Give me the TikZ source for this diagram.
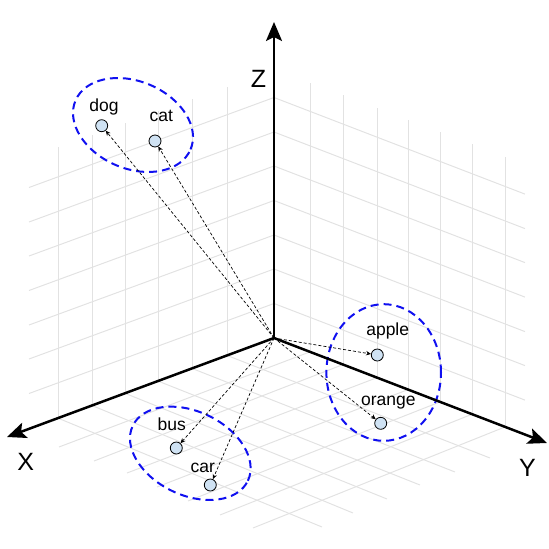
\documentclass[tikz,border=0pt]{standalone}
\usepackage{fontspec}
\setmainfont{Liberation Sans}
\usetikzlibrary{arrows.meta}
\definecolor{gridgray}{HTML}{E2E2E2}
\definecolor{ptfill}{HTML}{CFE2F3}
\definecolor{grpblue}{HTML}{1010F0}
\begin{document}
\begin{tikzpicture}[x=1pt,y=-1pt,
  gridline/.style={draw=gridgray, line width=1pt},
  axisline/.style={line width=2.5pt, -{Stealth[length=19pt,width=16pt,inset=4pt]}},
  grp/.style={draw=grpblue, line width=2pt, dash pattern=on 8pt off 5pt},
  vec/.style={line width=0.7pt, dash pattern=on 3pt off 2pt, -{Stealth[length=5pt,width=4.5pt]}},
  pt/.style={circle, draw, line width=0.8pt, fill=ptfill, minimum size=12pt, inner sep=0pt},
  lbl/.style={anchor=base, inner sep=0pt, font=\fontsize{17.5}{20}\selectfont},
  axl/.style={anchor=base, inner sep=0pt, font=\fontsize{25}{28}\selectfont}
]
\useasboundingbox (0,0) rectangle (549,549);

% left wall (XZ)
\foreach \y in {97.5,132,166,200.5,235,269,303.5}
  \draw[gridline] (274,\y) -- (29,\y+90);
\foreach \x in {58,92,125,158,192,227}
  \draw[gridline] (\x,{338+(274-\x)*0.371}) -- (\x,{70+(274-\x)*0.355});
% right wall (YZ)
\foreach \y in {97.5,132,166,200.5,235,269,303.5}
  \draw[gridline] (274,\y) -- (525,\y+96.6);
\foreach \x in {310,343,377,408,440,472,505}
  \draw[gridline] (\x,{338+(\x-274)*0.385}) -- (\x,{69+(\x-274)*0.38});
% floor (XY)
\foreach \x/\ex/\ey in {227/490/458,192/455/472,158/420/485,125/387/499,92/353/513,58/322/527}
  \draw[gridline] (\x,{338+(274-\x)*0.371}) -- (\ex,\ey);
\foreach \x/\ex/\ey in {310/59/447,343/94/461,377/127/473,408/157/487,440/188/501,472/220/515,505/253/528}
  \draw[gridline] (\x,{338+(\x-274)*0.385}) -- (\ex,\ey);

% group ellipses
\draw[grp, rotate around={-23:(133,125)}] (133,125) ellipse [x radius=62.5pt, y radius=43.6pt];
\draw[grp, rotate around={-25.5:(190.3,453.3)}] (190.3,453.3) ellipse [x radius=63.8pt, y radius=41.8pt];
\draw[grp] (383.7,372.5) ellipse [x radius=57.3pt, y radius=68.3pt];

% axes
\coordinate (O) at (274,338);
\coordinate (xt) at (7,437);
\coordinate (yt) at (547,443);
\coordinate (zt) at (274,22);
\draw[axisline] (O) -- (xt);
\draw[axisline] (O) -- (yt);
\draw[axisline] (O) -- (zt);
\node[axl] (xl) at (25.8,470) {X};
\node[axl] (yl) at (527.5,476.5) {Y};
\node[axl] (zl) at (258.5,87) {Z};

% points
\node[pt] (dog) at (101.7,125.7) {};
\node[pt] (cat) at (155,141) {};
\node[pt] (bus) at (176.3,448) {};
\node[pt] (car) at (210.3,485) {};
\node[pt] (apple) at (377.3,355) {};
\node[pt] (orange) at (380.7,423.3) {};

\node[lbl] (doglbl) at (104,111.7) {dog};
\node[lbl] (catlbl) at (161.3,121) {cat};
\node[lbl] (buslbl) at (171.7,430.7) {bus};
\node[lbl] (carlbl) at (202.8,472.7) {car};
\node[lbl] (applelbl) at (387.7,335) {apple};
\node[lbl] (orangelbl) at (388.3,405.7) {orange};

% vectors
\foreach \p in {dog,cat,bus,car,apple,orange}
  \draw[vec] (O) -- (\p);
\end{tikzpicture}
\end{document}
